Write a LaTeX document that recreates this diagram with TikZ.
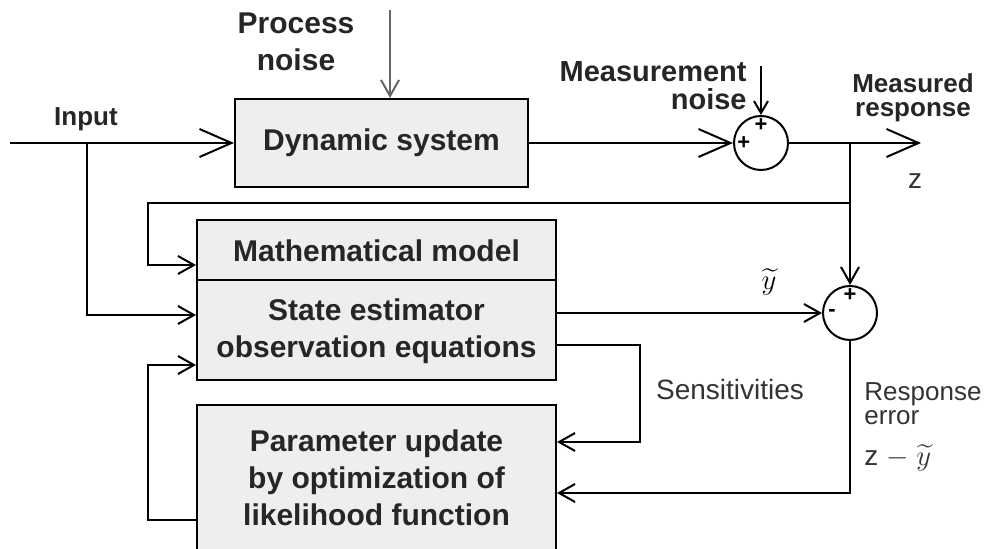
\documentclass[tikz,border=0pt]{standalone}
\usepackage{fontspec}
\setmainfont{Liberation Sans}
\usepackage{amsmath}
\usetikzlibrary{arrows.meta,positioning}

\begin{document}
\begin{tikzpicture}[x=0.5pt,y=-0.5pt,
  blk/.style={draw,line width=1pt,fill=gray!13,inner sep=0pt},
  blktxt/.style={font=\bfseries\fontsize{15}{18.5}\selectfont,text=black!85,align=center,inner sep=0pt},
  lbl/.style={font=\bfseries\fontsize{13}{11}\selectfont,text=black!85,inner sep=0pt},
  note/.style={font=\fontsize{14}{12}\selectfont,text=black!80,inner sep=0pt},
  sumnode/.style={draw,circle,line width=1pt,minimum size=27pt,inner sep=0pt},
  sign/.style={font=\bfseries\fontsize{11}{11}\selectfont,inner sep=0pt},
  sig/.style={line width=1pt,-{Straight Barb[length=8pt,width=9pt,line width=1pt]}},
  bigsig/.style={line width=1pt,-{Straight Barb[length=16pt,width=14pt,line width=1pt]}}]
\clip (0,0) rectangle (989,549);
\useasboundingbox (0,0) rectangle (989,549);

%Blocks
\node[blk,minimum width=146.5pt,minimum height=44pt] (dyn) at (381.5,143) {};
\node[blktxt] (dyntxt) at (dyn) {Dynamic system};
\node[blk,minimum width=179.5pt,minimum height=80pt] (model) at (376.5,300) {};
\node[blktxt] (modtitle) at (376.5,251) {Mathematical model};
\node[blktxt] (modtxt) at (376.5,331) {State estimator\\observation equations};
\node[blk,minimum width=179.5pt,minimum height=90pt] (param) at (376.5,495) {};
\node[blktxt] (partxt) at (376.5,478) {Parameter update\\by optimization of\\likelihood function};

%Summing junctions
\node[sumnode] (sumA) at (761,143) {};
\node[sumnode] (sumB) at (850,313) {};
\node[sign,below=1.5pt of sumA.north] (sAtop) {+};
\node[sign,right=2pt of sumA.west] (sAleft) {+};
\node[sign,below=1.5pt of sumB.north] (sBtop) {+};
\node[sign,right=3pt of sumB.west] (sBleft) {-};

%Free ends and corners
\coordinate (in) at (10,143);
\coordinate (inb) at (87,143);
\coordinate (pn) at (390,10);
\coordinate (mn) at (761,66);
\coordinate (out) at (921,143);
\coordinate (tap) at (850,143);
\coordinate (fb) at (850,203);
\coordinate (fbl) at (148,203);
\coordinate (y265) at (0,265);
\coordinate (y280) at (0,280);
\coordinate (y315) at (0,315);
\coordinate (y345) at (0,345);
\coordinate (sens) at (640,345);
\coordinate (y442) at (0,442);
\coordinate (y493) at (0,493);
\coordinate (y520) at (0,520);
\coordinate (pfl) at (148,520);
\coordinate (y365) at (0,365);

%Labels
\node[blktxt,align=center] (pnlbl) at (296,42) {Process\\noise};
\node[blktxt,align=right,anchor=east,font=\bfseries\fontsize{14.5}{14}\selectfont] (mnlbl) at (747,86) {Measurement\\noise};
\node[lbl] (inlbl) at (86,119) {Input};
\node[lbl,align=center,font=\bfseries\fontsize{13}{12}\selectfont] (outlbl) at (913,98) {Measured\\response};
\node[note] (zlbl) at (915,181) {z};
\node[note] (senslbl) at (730,389) {Sensitivities};
\node[note,align=left,anchor=west,font=\fontsize{13}{12}\selectfont] (errlbl) at (864,404) {Response\\error};
\node[note,anchor=west] (errexp) at (864,458) {z $-$ $\widetilde{y}$};

%Connectors
\draw[bigsig] (in) -- (dyn.west);
\draw[sig,gray!80!black] (pn) -- (pn |- dyn.north);
\draw[bigsig] (dyn.east) -- (sumA.west);
\draw[sig,-{Straight Barb[length=6pt,width=7pt,line width=1pt]}] (mn) -- (sumA.north);
\draw[bigsig] (sumA.east) -- (out);
\draw[sig] (tap) -- (sumB.north);
\draw[sig] (fb) -- (fbl) |- (model.west |- y265);
\draw[sig] (inb) |- (model.west |- y315);
\draw[sig] (model.east |- sumB) -- node[pos=0.8,above=5pt,font=\fontsize{15}{15}\selectfont] (ytil) {$\widetilde{y}$} (sumB.west);
\draw[line width=1pt] (model.west |- y280) -- (model.east |- y280);
\draw[sig] (model.east |- y345) -- (sens) |- (param.east |- y442);
\draw[sig] (sumB.south) |- (param.east |- y493);
\draw[sig] (param.west |- y520) -- (pfl) |- (model.west |- y365);
\end{tikzpicture}
\end{document}
